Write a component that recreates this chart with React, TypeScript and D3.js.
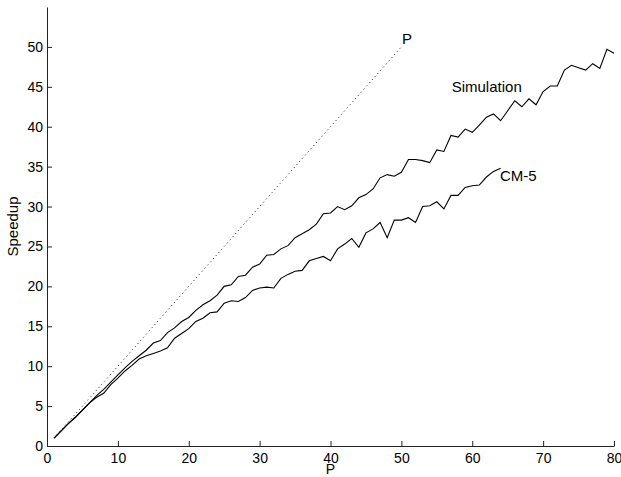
import React, { useEffect, useRef } from 'react';
import * as d3 from 'd3';

// processor counts and measured/simulated speedups
const simP = d3.range(1, 81);
const simSpeedup = [
  1.0, 1.9, 2.8, 3.6, 4.5, 5.4, 6.3, 7.1, 8.0, 8.9,
  9.8, 10.6, 11.3, 12.0, 12.9, 13.2, 14.2, 14.8, 15.6, 16.1,
  17.0, 17.7, 18.2, 18.9, 20.0, 20.2, 21.25, 21.4, 22.4, 22.8,
  23.9, 24.0, 24.7, 25.1, 26.1, 26.6, 27.1, 27.8, 29.1, 29.2,
  30.0, 29.6, 30.1, 31.1, 31.5, 32.2, 33.6, 34.0, 33.8, 34.3,
  35.9, 35.9, 35.75, 35.5, 37.1, 36.9, 38.9, 38.7, 39.7, 39.3,
  40.2, 41.2, 41.6, 40.75, 42.0, 43.25, 42.5, 43.5, 42.75, 44.4,
  45.1, 45.1, 47.1, 47.7, 47.4, 47.1, 47.9, 47.3, 49.7, 49.2
];

const cm5P = d3.range(1, 65);
const cm5Speedup = [
  1.0, 1.9, 2.8, 3.6, 4.5, 5.4, 6.1, 6.6, 7.7, 8.5,
  9.4, 10.1, 10.9, 11.3, 11.6, 11.9, 12.3, 13.5, 14.1, 14.7,
  15.6, 16.0, 16.7, 16.8, 17.9, 18.2, 18.1, 18.6, 19.5, 19.8,
  19.9, 19.8, 21.0, 21.5, 21.9, 22.0, 23.2, 23.5, 23.75, 23.2,
  24.7, 25.3, 26.0, 24.9, 26.7, 27.2, 28.0, 26.1, 28.3, 28.3,
  28.6, 28.0, 30.0, 30.1, 30.6, 29.7, 31.4, 31.4, 32.4, 32.6,
  32.7, 33.7, 34.4, 34.8
];

// ideal speedup line (speedup = P)
const idealP = d3.range(1, 51);

const xTicks = [0, 10, 20, 30, 40, 50, 60, 70, 80];
const yTicks = [0, 5, 10, 15, 20, 25, 30, 35, 40, 45, 50];

const FONT = '"Liberation Sans", Arial, Helvetica, sans-serif';

const SpeedupChart: React.FC = () => {
  const svgRef = useRef<SVGSVGElement>(null);
  const width = 621;
  const height = 477;
  const marginTop = 7;
  const marginRight = 7;
  const marginBottom = 31;
  const marginLeft = 47;

  useEffect(() => {
    if (!svgRef.current) return;
    document.body.style.margin = '0';

    const svg = d3.select(svgRef.current);
    svg.selectAll('*').remove();

    const innerWidth = width - marginLeft - marginRight;
    const innerHeight = height - marginTop - marginBottom;

    const x = d3.scaleLinear().domain([0, 80]).range([0, innerWidth]);
    const y = d3.scaleLinear().domain([0, 55]).range([innerHeight, 0]);

    const g = svg.append('g')
      .attr('transform', `translate(${marginLeft},${marginTop})`);

    // axes, MATLAB style: ticks pointing inward, no box
    const xAxis = g.append('g')
      .attr('transform', `translate(0,${innerHeight})`)
      .call(d3.axisBottom(x).tickValues(xTicks).tickSizeInner(-5).tickSizeOuter(0).tickPadding(7));

    const yAxis = g.append('g')
      .call(d3.axisLeft(y).tickValues(yTicks).tickSizeInner(-5).tickSizeOuter(0).tickPadding(4));

    [xAxis, yAxis].forEach(a => {
      a.attr('font-family', FONT).attr('font-size', 14);
      a.selectAll('text').attr('fill', '#000');
      a.selectAll('line, path').attr('stroke', '#222');
    });

    const line = d3.line<[number, number]>()
      .x(d => x(d[0]))
      .y(d => y(d[1]));

    // ideal line
    g.append('path')
      .datum(idealP.map(p => [p, p] as [number, number]))
      .attr('fill', 'none')
      .attr('stroke', '#000')
      .attr('stroke-width', 0.9)
      .attr('stroke-dasharray', '1 3.2')
      .attr('d', line);

    g.append('path')
      .datum(simP.map((p, i) => [p, simSpeedup[i]] as [number, number]))
      .attr('fill', 'none')
      .attr('stroke', '#000')
      .attr('stroke-width', 1.1)
      .attr('d', line);

    g.append('path')
      .datum(cm5P.map((p, i) => [p, cm5Speedup[i]] as [number, number]))
      .attr('fill', 'none')
      .attr('stroke', '#000')
      .attr('stroke-width', 1.1)
      .attr('d', line);

    // curve labels
    const label = (text: string, px: number, py: number) =>
      g.append('text')
        .attr('x', x(px))
        .attr('y', y(py))
        .attr('font-family', FONT)
        .attr('font-size', 15)
        .attr('fill', '#000')
        .text(text);

    label('P', 50.1, 50.4);
    label('Simulation', 57.1, 44.4);
    label('CM-5', 63.9, 33.25);

    // axis titles
    svg.append('text')
      .attr('x', marginLeft + innerWidth / 2)
      .attr('y', height - 3)
      .attr('text-anchor', 'middle')
      .attr('font-family', FONT)
      .attr('font-size', 14)
      .text('P');

    svg.append('text')
      .attr('transform', `translate(18,${marginTop + innerHeight / 2}) rotate(-90)`)
      .attr('text-anchor', 'middle')
      .attr('font-family', FONT)
      .attr('font-size', 15)
      .text('Speedup');
  }, []);

  return <svg ref={svgRef} width={width} height={height} style={{ display: 'block' }} />;
};

export default function App() {
  return <SpeedupChart />;
}
